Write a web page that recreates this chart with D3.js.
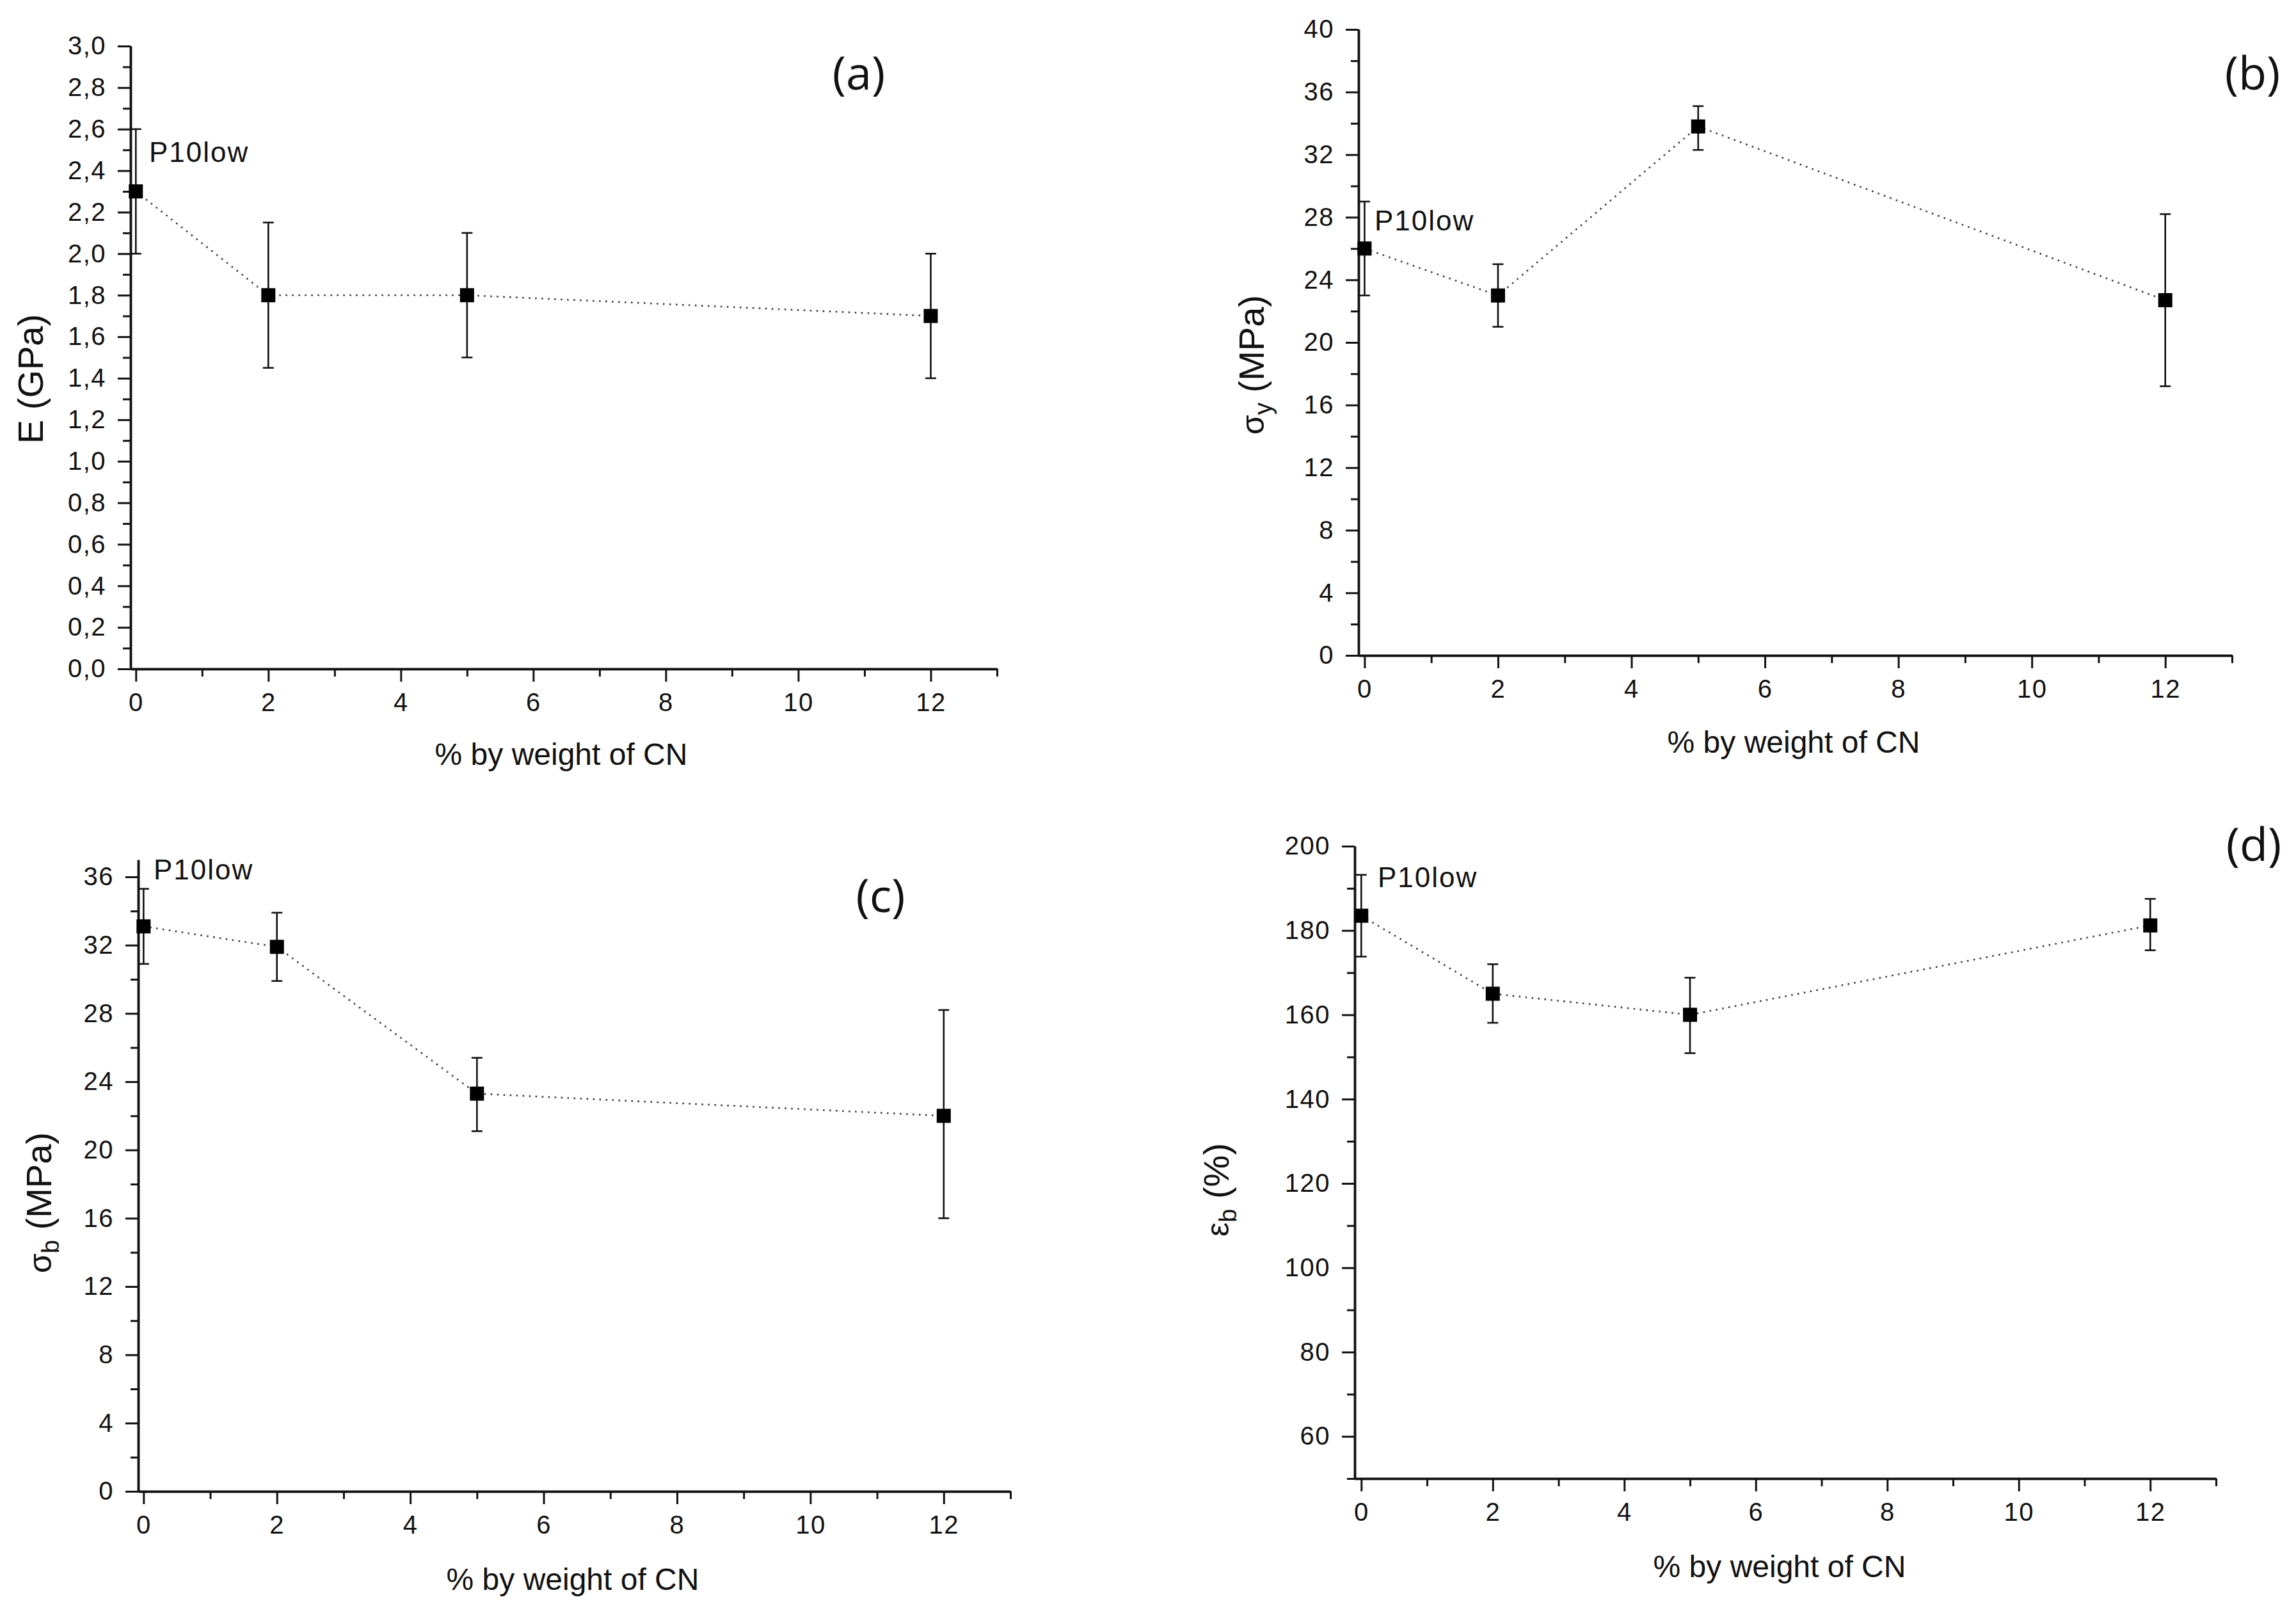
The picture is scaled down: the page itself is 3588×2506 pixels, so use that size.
<!DOCTYPE html>
<html>
<head>
<meta charset="utf-8">
<script src="https://cdn.jsdelivr.net/npm/d3@7"></script>
<style>
  html, body { margin: 0; padding: 0; background: #ffffff; }
  svg { display: block; }
  text { font-family: "Liberation Sans", Arial, sans-serif; fill: #111; }
</style>
</head>
<body>
<svg id="chart" width="3588" height="2506"></svg>
<script>
// ---------------- DATA ----------------
const xCN = [0, 2, 5, 12];
const xTickValues = [0, 2, 4, 6, 8, 10, 12];
const xTickLabels = ["0", "2", "4", "6", "8", "10", "12"];

// (a) Young's modulus E (GPa)
const E_val = [2.30, 1.80, 1.80, 1.70];
const E_hi  = [2.60, 2.15, 2.10, 2.00];
const E_lo  = [2.00, 1.45, 1.50, 1.40];
const E_ticks = [0, 0.2, 0.4, 0.6, 0.8, 1.0, 1.2, 1.4, 1.6, 1.8, 2.0, 2.2, 2.4, 2.6, 2.8, 3.0];
const E_tickLabels = ["0,0","0,2","0,4","0,6","0,8","1,0","1,2","1,4","1,6","1,8","2,0","2,2","2,4","2,6","2,8","3,0"];

// (b) yield stress sigma_y (MPa)
const sy_val = [26.0, 23.0, 33.8, 22.7];
const sy_hi  = [29.0, 25.0, 35.1, 28.2];
const sy_lo  = [23.0, 21.0, 32.3, 17.2];
const sy_ticks = [0, 4, 8, 12, 16, 20, 24, 28, 32, 36, 40];
const sy_tickLabels = ["0","4","8","12","16","20","24","28","32","36","40"];

// (c) stress at break sigma_b (MPa)
const sb_val = [33.1, 31.9, 23.3, 22.0];
const sb_hi  = [35.3, 33.9, 25.4, 28.2];
const sb_lo  = [30.9, 29.9, 21.1, 16.0];
const sb_ticks = [0, 4, 8, 12, 16, 20, 24, 28, 32, 36];
const sb_tickLabels = ["0","4","8","12","16","20","24","28","32","36"];

// (d) strain at break epsilon_b (%)
const eb_val = [183.5, 165.0, 160.0, 181.2];
const eb_hi  = [193.2, 172.0, 168.8, 187.5];
const eb_lo  = [173.8, 158.1, 150.9, 175.3];
const eb_ticks = [60, 80, 100, 120, 140, 160, 180, 200];
const eb_tickLabels = ["60","80","100","120","140","160","180","200"];

const pointLabel = "P10low";
const xTitle = "% by weight of CN";

// ---------------- LAYOUT ----------------
const panels = [
  { tag: "(a)", val: E_val, hi: E_hi, lo: E_lo, ticks: E_ticks, labels: E_tickLabels,
    ydom: [0, 3], minorStep: 0.1,
    xr: [204, 1558], xdom: [-0.08, 13], yr: [1045, 72],
    tagPos: [1342, 140], ptPos: [233, 253], xTitlePos: [877, 1195],
    yTitle: { x: 67, y: 592, main: "E (GPa)" } },
  { tag: "(b)", val: sy_val, hi: sy_hi, lo: sy_lo, ticks: sy_ticks, labels: sy_tickLabels,
    ydom: [0, 40], minorStep: 2,
    xr: [2123, 3488], xdom: [-0.09, 13], yr: [1024, 46],
    tagPos: [3520, 140], ptPos: [2148, 360], xTitlePos: [2803, 1176],
    yTitle: { x: 1975, y: 570, sym: "σ", sub: "y", rest: " (MPa)" } },
  { tag: "(c)", val: sb_val, hi: sb_hi, lo: sb_lo, ticks: sb_ticks, labels: sb_tickLabels,
    ydom: [0, 37], minorStep: 2, minorMax: 36,
    xr: [216, 1579], xdom: [-0.08, 13], yr: [2330, 1343.3],
    tagPos: [1376, 1425], ptPos: [240, 1374], xTitlePos: [895, 2484],
    yTitle: { x: 80, y: 1879, sym: "σ", sub: "b", rest: " (MPa)" } },
  { tag: "(d)", val: eb_val, hi: eb_hi, lo: eb_lo, ticks: eb_ticks, labels: eb_tickLabels,
    ydom: [50, 200], minorStep: 10,
    xr: [2117, 3463], xdom: [-0.1, 13], yr: [2310, 1322],
    tagPos: [3522, 1345], ptPos: [2153, 1386], xTitlePos: [2781, 2464],
    yTitle: { x: 1920, y: 1859, sym: "ε", sub: "b", rest: " (%)" } }
];

const svg = d3.select("#chart");

panels.forEach(p => {
  const x = d3.scaleLinear().domain(p.xdom).range(p.xr);
  const y = d3.scaleLinear().domain(p.ydom).range(p.yr);
  const g = svg.append("g");

  // minor ticks
  const yMinor = d3.range(p.ydom[0], (p.minorMax !== undefined ? p.minorMax : p.ydom[1]) + 1e-9, p.minorStep)
    .filter(v => !p.ticks.some(t => Math.abs(t - v) < 1e-9));
  const xMinor = d3.range(1, 13.001, 2);

  const yAxis = d3.axisLeft(y).tickValues(p.ticks)
    .tickFormat((d, i) => p.labels[i]).tickSize(20).tickSizeOuter(0).tickPadding(18);
  const yAxisMinor = d3.axisLeft(y).tickValues(yMinor).tickFormat("").tickSize(12).tickSizeOuter(0);
  const xAxis = d3.axisBottom(x).tickValues(xTickValues)
    .tickFormat((d, i) => xTickLabels[i]).tickSize(20).tickSizeOuter(0).tickPadding(18);
  const xAxisMinor = d3.axisBottom(x).tickValues(xMinor).tickFormat("").tickSize(12).tickSizeOuter(0);

  g.append("g").attr("transform", `translate(${p.xr[0]},0)`).call(yAxis);
  g.append("g").attr("transform", `translate(${p.xr[0]},0)`).call(yAxisMinor);
  g.append("g").attr("transform", `translate(0,${p.yr[0]})`).call(xAxis);
  g.append("g").attr("transform", `translate(0,${p.yr[0]})`).call(xAxisMinor);

  g.selectAll(".domain").attr("stroke", "#111").attr("stroke-width", 3.5);
  g.selectAll(".tick line").attr("stroke", "#111").attr("stroke-width", 3);
  g.selectAll(".tick text").style("font-size", "40px").style("letter-spacing", "1.5px")
    .style("font-family", "'Liberation Sans', Arial, sans-serif").attr("fill", "#111");

  const pts = xCN.map((cx, i) => ({ x: cx, v: p.val[i], hi: p.hi[i], lo: p.lo[i] }));

  // dotted connecting line
  const line = d3.line().x(d => x(d.x)).y(d => y(d.v));
  g.append("path").datum(pts).attr("d", line)
    .attr("fill", "none").attr("stroke", "#333").attr("stroke-width", 2.6)
    .attr("stroke-dasharray", "2.5,7.5");

  // error bars
  const cap = 8.5;
  const eb = g.append("g").attr("stroke", "#111").attr("stroke-width", 2.6);
  eb.selectAll("line.v").data(pts).join("line").attr("class", "v")
    .attr("x1", d => x(d.x)).attr("x2", d => x(d.x))
    .attr("y1", d => y(d.hi)).attr("y2", d => y(d.lo));
  eb.selectAll("line.t").data(pts).join("line").attr("class", "t")
    .attr("x1", d => x(d.x) - cap).attr("x2", d => x(d.x) + cap)
    .attr("y1", d => y(d.hi)).attr("y2", d => y(d.hi));
  eb.selectAll("line.b").data(pts).join("line").attr("class", "b")
    .attr("x1", d => x(d.x) - cap).attr("x2", d => x(d.x) + cap)
    .attr("y1", d => y(d.lo)).attr("y2", d => y(d.lo));

  // square markers
  const ms = 22;
  g.selectAll("rect.m").data(pts).join("rect").attr("class", "m")
    .attr("x", d => x(d.x) - ms / 2).attr("y", d => y(d.v) - ms / 2)
    .attr("width", ms).attr("height", ms).attr("fill", "#000");

  // point label
  g.append("text").attr("x", p.ptPos[0]).attr("y", p.ptPos[1])
    .style("font-size", "44px").style("letter-spacing", "2px").text(pointLabel);

  // panel tag
  g.append("text").attr("x", p.tagPos[0]).attr("y", p.tagPos[1])
    .attr("text-anchor", "middle").style("font-size", "72px")
    .style("font-family", "'Open Sans', 'Liberation Sans', sans-serif").text(p.tag);

  // x title
  g.append("text").attr("x", p.xTitlePos[0]).attr("y", p.xTitlePos[1])
    .attr("text-anchor", "middle").style("font-size", "48px").text(xTitle);

  // y title
  const yt = g.append("text")
    .attr("transform", `translate(${p.yTitle.x},${p.yTitle.y}) rotate(-90)`)
    .attr("text-anchor", "middle").style("font-size", "56px");
  if (p.yTitle.main) {
    yt.text(p.yTitle.main);
  } else {
    yt.append("tspan").text(p.yTitle.sym).style("font-size", "50px");
    yt.append("tspan").text(p.yTitle.sub).style("font-size", "38px").attr("dy", 12);
    yt.append("tspan").text(p.yTitle.rest).attr("dy", -12);
  }
});
</script>
</body>
</html>
